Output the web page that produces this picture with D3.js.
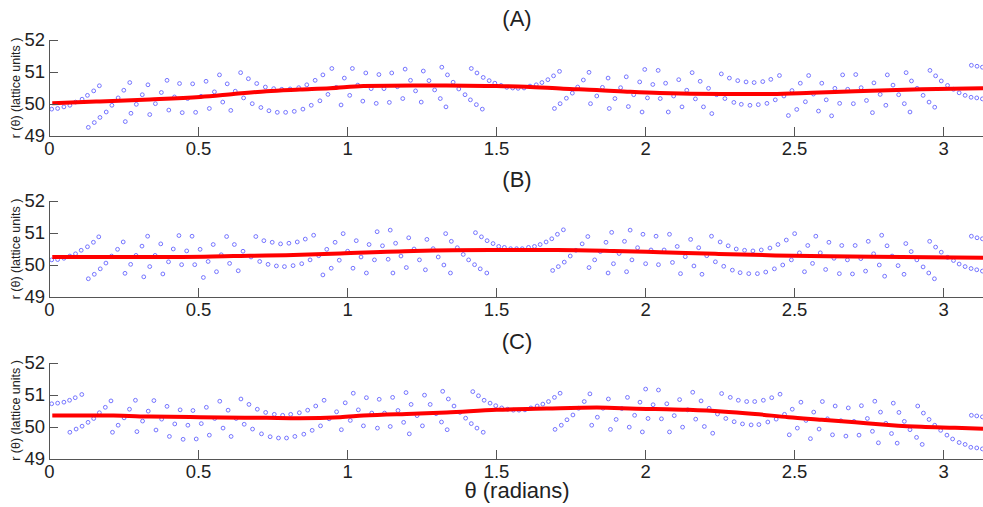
<!DOCTYPE html>
<html lang="en">
  <head>
    <script src="https://d3js.org/d3.v7.min.js"></script>
    <meta charset="utf-8">
    <style>
    html, body { margin: 0; padding: 0; background: #fff; overflow: hidden; }
    text { font-family: "Liberation Sans", Arial, sans-serif; fill: #222; }
    .axis path, .axis line { stroke: #555; stroke-width: 1px; shape-rendering: crispEdges; }
    .axis text { font-size: 18.5px; }
    .points circle { fill: none; stroke: #7474ff; stroke-width: 1px; }
    .fit { fill: none; stroke: #f00; stroke-width: 4px; }
    </style>
    <title>r vs theta</title>
  </head>
  <body>
    <script>
// Values: theta in radians, r in lattice units
var xTicks = [0, 0.5, 1, 1.5, 2, 2.5, 3];
var yTicks = [49, 50, 51, 52];

var thetaA = [.009,.029,.050,.070,.089,.111,.129,.150,.169,.132,.152,.171,.192,.211,.232,.251,.271,.256,.275,.293,.313,.332,.338,.357,.377,.396,.402,.421,.438,.447,.465,.482,.492,.510,.527,.538,.555,.572,.583,.598,.610,.625,.643,.653,.669,.682,.697,.711,.726,.738,.754,.766,.781,.794,.809,.823,.838,.852,.865,.880,.893,.909,.919,.936,.949,.964,
  .980,.991,1.009,1.018,1.036,1.053,1.063,1.081,1.098,1.107,1.124,1.142,1.150,1.169,1.187,1.195,1.213,1.230,1.249,1.256,1.275,1.294,1.313,1.318,1.332,1.337,1.356,1.375,1.396,1.414,1.417,1.434,1.436,1.454,1.457,1.477,1.496,1.517,1.536,1.556,1.574,1.594,1.614,1.635,1.654,1.674,1.693,1.713,1.696,1.715,1.736,1.756,1.774,1.793,1.812,1.817,1.838,1.857,1.876,1.880,1.899,1.918,1.937,1.944,1.962,1.982,1.999,1.990,2.008,2.026,2.044,
  2.051,2.069,2.078,2.096,2.113,2.124,2.140,2.158,2.169,2.185,2.196,2.213,2.224,2.240,2.256,2.268,2.283,2.298,2.311,2.323,2.339,2.352,2.366,2.380,2.395,2.409,2.422,2.437,2.451,2.466,2.481,2.493,2.509,2.521,2.538,2.549,2.565,2.582,2.593,2.608,2.626,2.637,2.653,2.663,2.680,2.699,2.707,2.725,2.743,2.763,2.768,2.789,2.808,2.813,2.832,2.851,2.870,2.876,2.889,2.894,2.913,2.933,2.953,2.956,2.972,2.975,2.994,3.015,3.035,3.054,3.074,3.094,3.113,3.132,3.095,3.114,3.132];
var rA = [49.84,49.86,49.91,49.96,50.06,50.15,50.27,50.41,50.57,49.27,49.42,49.58,49.75,49.96,50.19,50.43,50.67,49.45,49.71,49.99,50.29,50.60,49.67,50.01,50.36,50.74,49.81,50.22,50.64,49.73,50.17,50.63,49.74,50.24,50.71,49.86,50.38,50.91,50.06,50.63,49.80,50.40,50.98,50.19,50.79,50.01,50.64,49.89,50.53,49.79,50.48,49.74,50.46,49.74,50.47,49.77,50.51,49.84,50.60,49.96,50.74,50.10,50.91,50.30,51.11,50.52,
  49.97,50.81,50.27,51.11,50.59,50.09,50.97,50.48,50.02,50.92,50.48,50.05,50.97,50.54,50.17,51.09,50.74,50.41,50.06,51.03,50.73,50.44,50.17,51.15,49.91,50.91,50.68,50.47,50.29,50.13,51.11,49.98,50.97,49.84,50.83,50.73,50.65,50.58,50.52,50.50,50.49,50.50,50.56,50.60,50.67,50.76,50.88,51.02,49.86,50.01,50.18,50.34,50.53,50.75,50.99,50.01,50.25,50.52,50.81,49.86,50.17,50.51,50.85,49.92,50.29,50.69,51.08,49.75,50.19,50.61,51.05,
  50.17,50.65,49.75,50.25,50.76,49.91,50.43,50.98,50.16,50.71,49.91,50.49,49.70,50.29,50.94,50.17,50.81,50.05,50.73,49.99,50.69,49.96,50.67,49.98,50.70,50.02,50.77,50.13,50.89,50.25,49.64,50.42,49.83,50.65,50.07,50.89,50.31,49.78,50.65,50.13,49.63,50.49,50.02,50.91,50.46,50.01,50.92,50.51,50.11,49.73,50.66,50.30,49.96,50.91,50.59,50.29,50.01,50.98,49.75,50.72,50.49,50.27,50.06,51.05,49.90,50.88,50.72,50.58,50.46,50.35,50.27,50.21,50.19,50.16,51.21,51.18,51.15];
var fitThetaA = [.011,.171,.339,.507,.619,.730,.842,.943,1.055,1.223,1.334,1.502,1.600,1.726,1.838,1.950,2.050,2.257,2.425,2.559,2.705,2.928,3.134];
var fitRA = [50.02,50.08,50.14,50.22,50.31,50.40,50.45,50.49,50.56,50.58,50.58,50.56,50.54,50.48,50.44,50.38,50.34,50.31,50.31,50.35,50.40,50.46,50.49];

var thetaB = [.009,.029,.050,.070,.089,.108,.129,.149,.167,.132,.152,.172,.191,.210,.230,.249,.255,.274,.292,.312,.331,.318,.338,.356,.375,.382,.401,.417,.436,.445,.462,.480,.489,.507,.518,.534,.551,.562,.578,.596,.606,.622,.635,.651,.678,.694,.707,.721,.735,.749,.763,.777,.790,.805,.819,.833,.848,.860,.876,.888,.905,.919,.932,.947,.960,.974,
  .987,1.002,1.020,1.031,1.047,1.065,1.074,1.092,1.101,1.119,1.138,1.145,1.154,1.163,1.181,1.199,1.207,1.225,1.243,1.263,1.268,1.289,1.306,1.325,1.331,1.347,1.350,1.370,1.390,1.408,1.428,1.431,1.447,1.451,1.469,1.470,1.490,1.509,1.528,1.549,1.569,1.588,1.609,1.629,1.648,1.668,1.687,1.706,1.726,1.690,1.709,1.729,1.749,1.768,1.789,1.808,1.812,1.831,1.850,1.869,1.888,1.876,1.894,1.913,1.931,1.950,1.938,1.956,1.975,1.993,2.002,2.020,2.037,2.045,
  2.064,2.082,2.092,2.108,2.119,2.135,2.153,2.164,2.180,2.191,2.207,2.223,2.236,2.252,2.264,2.279,2.293,2.306,2.319,2.334,2.348,2.362,2.377,2.390,2.405,2.419,2.434,2.446,2.462,2.474,2.491,2.502,2.518,2.535,2.546,2.562,2.573,2.588,2.606,2.617,2.634,2.652,2.660,2.679,2.696,2.705,2.724,2.740,2.749,2.767,2.786,2.794,2.804,2.812,2.829,2.849,2.869,2.875,2.893,2.912,2.933,2.952,2.955,2.971,2.975,2.994,3.015,3.035,3.054,3.074,3.094,3.113,3.132,3.095,3.114,3.132];
var rB = [50.16,50.17,50.21,50.28,50.35,50.46,50.57,50.71,50.88,49.57,49.71,49.88,50.06,50.28,50.49,50.72,49.74,50.02,50.30,50.59,50.90,49.63,49.95,50.30,50.66,49.72,50.10,50.50,50.92,50.01,50.44,50.90,50.01,50.49,49.61,50.11,50.64,49.79,50.32,50.89,50.05,50.64,49.82,50.43,50.25,50.89,50.11,50.76,50.02,50.71,49.97,50.66,49.95,50.68,49.98,50.72,50.04,50.81,50.16,50.93,50.29,49.69,50.49,49.90,50.71,50.15,
  50.98,50.43,49.90,50.76,50.25,49.75,50.64,50.16,51.04,50.60,50.18,51.09,49.75,50.68,50.28,49.92,50.85,50.50,50.16,49.85,50.80,50.51,50.25,50.00,50.98,49.75,50.74,50.54,50.33,50.16,50.01,51.01,49.88,50.88,49.75,50.76,50.67,50.58,50.55,50.51,50.51,50.51,50.55,50.58,50.64,50.72,50.82,50.96,51.10,49.83,49.95,50.09,50.28,50.46,50.66,50.89,49.92,50.16,50.42,50.71,51.02,49.75,50.04,50.36,50.74,51.09,49.79,50.16,50.54,50.96,50.04,50.47,50.90,50.01,
  50.47,50.96,50.08,50.58,49.73,50.26,50.80,49.97,50.54,49.71,50.29,50.90,50.10,50.72,49.96,50.60,49.84,50.50,49.76,50.46,49.73,50.44,49.73,50.47,49.78,50.53,49.88,50.64,50.00,50.78,50.16,50.98,50.38,49.79,50.61,50.05,50.90,50.38,49.86,50.71,50.21,49.73,50.61,50.16,49.72,50.61,50.20,49.81,50.74,50.35,50.00,50.93,49.65,50.60,50.28,49.98,49.71,50.67,50.42,50.16,49.94,49.75,50.74,49.57,50.56,50.40,50.24,50.14,50.03,49.95,49.89,49.85,49.81,50.90,50.85,50.82];
var fitThetaB = [.011,.373,.619,.820,.977,1.223,1.480,1.704,1.894,2.050,2.235,2.436,2.615,2.861,3.134];
var fitRB = [50.25,50.25,50.28,50.31,50.36,50.44,50.47,50.47,50.44,50.40,50.35,50.30,50.27,50.25,50.23];

var thetaC = [.009,.029,.050,.069,.088,.110,.070,.091,.111,.131,.150,.169,.189,.208,.213,.232,.252,.270,.290,.295,.314,.333,.352,.359,.378,.396,.404,.422,.440,.450,.466,.483,.494,.511,.528,.538,.556,.573,.584,.601,.611,.628,.644,.655,.671,.683,.699,.713,.727,.742,.756,.770,.784,.797,.811,.825,.840,.855,.868,.883,.895,.911,.923,.940,.965,.981,
  .994,1.011,1.021,1.038,1.055,1.065,1.083,1.102,1.108,1.126,1.145,1.153,1.171,1.190,1.198,1.209,1.215,1.235,1.253,1.260,1.279,1.299,1.317,1.321,1.336,1.340,1.359,1.379,1.398,1.417,1.422,1.436,1.441,1.457,1.460,1.480,1.499,1.519,1.539,1.558,1.577,1.597,1.617,1.638,1.657,1.676,1.696,1.715,1.698,1.719,1.738,1.758,1.777,1.796,1.815,1.821,1.840,1.859,1.877,1.884,1.903,1.922,1.941,1.947,1.965,1.983,2.002,1.991,2.010,2.027,2.045,
  2.055,2.073,2.082,2.098,2.116,2.126,2.143,2.160,2.170,2.188,2.199,2.215,2.227,2.243,2.257,2.271,2.286,2.299,2.313,2.327,2.341,2.356,2.368,2.382,2.397,2.412,2.425,2.440,2.453,2.468,2.484,2.494,2.511,2.523,2.540,2.555,2.566,2.584,2.595,2.612,2.629,2.638,2.657,2.674,2.682,2.701,2.718,2.726,2.746,2.763,2.771,2.790,2.808,2.783,2.827,2.833,2.846,2.852,2.870,2.889,2.911,2.915,2.930,2.934,2.953,2.972,2.992,3.013,3.032,3.054,3.074,3.093,3.113,3.132,3.095,3.113,3.132];
var rC = [50.71,50.73,50.76,50.82,50.90,51.00,49.82,49.92,50.01,50.13,50.25,50.43,50.60,50.80,49.82,50.04,50.27,50.54,50.82,49.84,50.17,50.48,50.81,49.89,50.23,50.63,49.69,50.08,50.52,49.60,50.04,50.50,49.61,50.09,50.60,49.73,50.25,50.79,49.95,50.51,49.69,50.25,50.86,50.07,50.69,49.92,50.54,49.77,50.44,49.68,50.38,49.64,50.35,49.64,50.38,49.69,50.43,49.76,50.51,49.88,50.64,50.02,50.82,50.24,50.46,49.90,
  50.74,50.19,51.04,50.52,50.02,50.90,50.42,49.95,50.85,50.42,50.00,50.91,50.50,50.13,51.06,49.77,50.69,50.34,50.02,50.98,50.69,50.40,50.14,51.10,49.90,50.86,50.64,50.44,50.26,50.09,51.09,49.95,50.96,49.82,50.82,50.73,50.65,50.58,50.54,50.51,50.51,50.52,50.58,50.64,50.70,50.78,50.91,51.04,49.91,50.04,50.21,50.36,50.57,50.78,51.02,50.04,50.29,50.57,50.86,49.91,50.22,50.56,50.91,49.98,50.35,50.76,51.17,49.83,50.25,50.68,51.14,
  50.24,50.71,49.83,50.34,50.84,49.98,50.52,51.07,50.23,50.80,50.00,50.57,49.79,50.39,51.03,50.25,50.91,50.15,50.82,50.08,50.78,50.05,50.78,50.06,50.82,50.14,50.90,50.23,51.01,50.38,49.74,50.54,49.95,50.76,50.19,49.62,50.45,49.92,50.78,50.24,49.74,50.64,50.18,49.70,50.58,50.16,49.73,50.65,50.25,49.85,50.79,50.45,50.10,49.49,49.78,50.73,49.48,50.44,50.16,49.90,49.66,50.64,49.44,50.42,50.22,50.04,49.88,49.73,49.61,49.50,49.44,49.35,49.33,49.30,50.35,50.33,50.30];
var fitThetaC = [.011,.216,.339,.507,.730,.842,.977,1.055,1.223,1.334,1.502,1.670,1.838,2.005,2.034,2.145,2.257,2.369,2.481,2.593,2.705,2.817,2.928,3.040,3.134];
var fitRC = [50.34,50.34,50.31,50.29,50.27,50.26,50.29,50.34,50.40,50.44,50.52,50.56,50.59,50.55,50.55,50.52,50.47,50.39,50.29,50.21,50.13,50.05,49.99,49.96,49.93];

var w = 983;
var h = 507;
var svg = d3.select('body')
            .append('svg')
            .attr('width', w)
            .attr('height', h);

var x = d3.scaleLinear().domain([0, 3.134]).range([49, 983]);

function drawPanel(title, top, bottom, theta, r, fitTheta, fitR) {
  var y = d3.scaleLinear().domain([49, 52]).range([bottom, top]);

  svg.append("g")
     .attr("class", "points")
     .selectAll("circle")
     .data(theta)
     .enter().append("circle")
     .attr("cx", function(d) { return x(d); })
     .attr("cy", function(d, i) { return y(r[i]); })
     .attr("r", 1.9);

  var line = d3.line()
               .x(function(d) { return x(d); })
               .y(function(d, i) { return y(fitR[i]); })
               .curve(d3.curveMonotoneX);

  svg.append("path")
     .attr("class", "fit")
     .attr("d", line(fitTheta));

  // MATLAB style: ticks point into the plot
  svg.append("g")
     .attr("class", "axis")
     .attr("transform", "translate(0," + bottom + ")")
     .call(d3.axisBottom(x).tickValues(xTicks).tickFormat(d3.format("")).tickSize(-9).tickSizeOuter(0).tickPadding(6));

  svg.append("g")
     .attr("class", "axis")
     .attr("transform", "translate(49,0)")
     .call(d3.axisLeft(y).tickValues(yTicks).tickFormat(d3.format("d")).tickSize(-9).tickSizeOuter(0).tickPadding(4));

  svg.append("text")
     .attr("x", 517)
     .attr("y", top - 14)
     .attr("text-anchor", "middle")
     .style("font-size", "22px")
     .text(title);

  svg.append("text")
     .attr("transform", "translate(20," + (top + bottom) / 2 + ") rotate(-90)")
     .attr("text-anchor", "middle")
     .style("font-size", "12.5px")
     .text("r (θ) (lattice units )");
}

drawPanel("(A)", 40, 136, thetaA, rA, fitThetaA, fitRA);
drawPanel("(B)", 201, 297, thetaB, rB, fitThetaB, fitRB);
drawPanel("(C)", 362.5, 458.5, thetaC, rC, fitThetaC, fitRC);

svg.append("text")
   .attr("x", 517)
   .attr("y", 498)
   .attr("text-anchor", "middle")
   .style("font-size", "22px")
   .text("θ (radians)");
    </script>
  </body>
</html>
